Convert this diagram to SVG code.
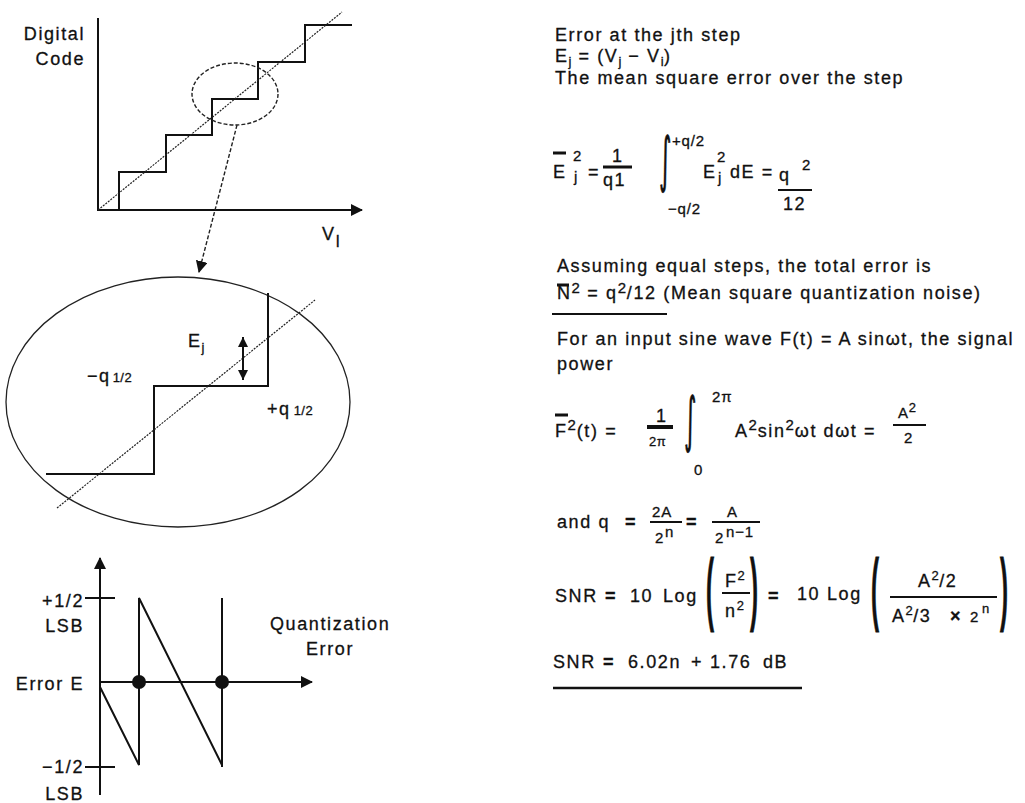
<svg xmlns="http://www.w3.org/2000/svg" width="1025" height="803" viewBox="0 0 1025 803">
<defs>
<style>
text { font-family: "Liberation Sans", Arial, Helvetica, sans-serif; font-size: 18px; letter-spacing: 1.6px; fill: #111; stroke: #111; stroke-width: 0.3px; }
.sm { font-size: 13px; letter-spacing: 0.4px; }
.md { font-size: 15px; letter-spacing: 0.8px; }
.b { font-weight: bold; }
.par { font-size: 24px; font-weight: bold; letter-spacing: 0; }
.int { font-family: "DejaVu Sans", sans-serif; font-size: 30px; letter-spacing: 0; }
.ax { stroke: #111; stroke-width: 2; fill: none; }
.st { stroke: #111; stroke-width: 2; fill: none; }
.dot { stroke: #222; stroke-width: 1.2; fill: none; stroke-dasharray: 2 1.2; }
.thin { stroke: #222; stroke-width: 1.3; fill: none; }
.dash { stroke: #222; stroke-width: 1.4; fill: none; stroke-dasharray: 4 2; }
.bar { stroke: #111; stroke-width: 2; }
.ob { stroke: #111; stroke-width: 3; }
</style>
<marker id="arr" markerUnits="userSpaceOnUse" markerWidth="12" markerHeight="12" refX="11" refY="6" orient="auto-start-reverse">
<path d="M0,0 L12,6 L0,12 z" fill="#111"/>
</marker>
<marker id="arrs" markerUnits="userSpaceOnUse" markerWidth="12" markerHeight="10" refX="10" refY="5" orient="auto-start-reverse">
<path d="M0,0 L10,5 L0,10 z" fill="#111"/>
</marker>
</defs>
<rect width="1025" height="803" fill="#fff"/>

<g id="code-plot">
<line x1="98" y1="18" x2="98" y2="210" class="ax"/>
<line x1="97" y1="210" x2="362" y2="210" class="ax" marker-end="url(#arr)"/>
<polyline points="119,210 119,172 166,172 166,135 212,135 212,99 258,99 258,62 305,62 305,25 352,25" class="st"/>
<line x1="98" y1="210" x2="342" y2="12" class="dot"/>
<text x="85" y="40" text-anchor="end">Digital</text>
<text x="85" y="65" text-anchor="end">Code</text>
<text x="322" y="240">V<tspan dy="7" font-size="16">I</tspan></text>
</g>

<g id="zoom-marker">
<ellipse cx="235" cy="94" rx="43" ry="31" class="dash"/>
</g>

<g id="zoom-view">
<ellipse cx="178" cy="402" rx="172" ry="125" class="thin"/>
<polyline points="46,474 154,474 154,386 268,386 268,293" class="st"/>
<line x1="57" y1="508" x2="315" y2="300" class="dot"/>
<line x1="243" y1="337" x2="243" y2="380" class="bar" marker-start="url(#arrs)" marker-end="url(#arrs)"/>
<text x="188" y="347">E<tspan class="sm" dy="5">j</tspan></text>
<text x="87" y="382">−q<tspan class="sm" dx="2">1/2</tspan></text>
<text x="267" y="415">+q<tspan class="sm" dx="3">1/2</tspan></text>
</g>

<g id="error-plot">
<line x1="100" y1="795" x2="100" y2="558" class="ax" marker-end="url(#arr)"/>
<line x1="100" y1="682" x2="312" y2="682" class="ax" marker-end="url(#arr)"/>
<line x1="85" y1="598" x2="115" y2="598" class="ax"/>
<line x1="85" y1="767" x2="115" y2="767" class="ax"/>
<polyline points="100,687 139,765 139,598 222,765" class="st"/>
<line x1="222" y1="598" x2="222" y2="767" class="st"/>
<circle cx="139" cy="682" r="7" fill="#111"/>
<circle cx="222" cy="682" r="7" fill="#111"/>
<text x="84" y="607" text-anchor="end">+1/2</text>
<text x="84" y="632" text-anchor="end">LSB</text>
<text x="84" y="690" text-anchor="end">Error E</text>
<text x="84" y="773" text-anchor="end">−1/2</text>
<text x="84" y="800" text-anchor="end">LSB</text>
<text x="270" y="630">Quantization</text>
<text x="330" y="655" text-anchor="middle">Error</text>
</g>

<g id="connectors">
<line x1="237" y1="125" x2="199" y2="272" class="dash" marker-end="url(#arr)"/>
</g>

<g id="error-def">
<text x="555" y="41">Error at the jth step</text>
<text x="555" y="62">E<tspan class="sm" dy="4">j</tspan><tspan dy="-4"> = (V</tspan><tspan class="sm" dy="4">j</tspan><tspan dy="-4"> − V</tspan><tspan class="sm" dy="4">i</tspan><tspan dy="-4">)</tspan></text>
<text x="555" y="84">The mean square error over the step</text>
</g>

<g id="mse-eq">
<line x1="553" y1="153" x2="566" y2="153" class="ob"/>
<text x="553" y="178">E</text>
<text x="573" y="161" class="md">2</text>
<text x="574" y="182" class="md">j</text>
<text x="588" y="178">=</text>
<text x="612" y="162">1</text>
<line x1="603" y1="167" x2="632" y2="167" class="ob"/>
<text x="603" y="186">q1</text>
<text class="int" transform="translate(659,180) scale(0.8,2)">∫</text>
<text x="672" y="146" class="md">+q/2</text>
<text x="668" y="214" class="md">−q/2</text>
<text x="703" y="178">E</text>
<text x="717" y="162" class="md">2</text>
<text x="718" y="183" class="md">j</text>
<text x="730" y="178">dE =</text>
<text x="779" y="181">q</text>
<text x="802" y="170" class="md">2</text>
<line x1="778" y1="190" x2="812" y2="190" class="bar"/>
<text x="783" y="210">12</text>
</g>

<g id="noise-text">
<text x="557" y="272">Assuming equal steps, the total error is</text>
<line x1="557" y1="285" x2="569" y2="285" class="ob"/>
<text x="557" y="299">N<tspan class="md" dy="-6">2</tspan><tspan dy="6"> = q</tspan><tspan class="md" dy="-6">2</tspan><tspan dy="6">/12 (Mean square quantization noise)</tspan></text>
<line x1="552" y1="314" x2="667" y2="314" class="bar"/>
<text x="557" y="345">For an input sine wave F(t) = A sinωt, the signal</text>
<text x="557" y="370">power</text>
</g>

<g id="power-eq">
<line x1="555" y1="415" x2="568" y2="415" class="ob"/>
<text x="555" y="437">F<tspan class="md" dy="-7">2</tspan><tspan dy="7">(t) =</tspan></text>
<text x="656" y="422">1</text>
<line x1="647" y1="427" x2="673" y2="427" stroke="#111" stroke-width="4"/>
<text x="649" y="446" class="sm">2π</text>
<text class="int" transform="translate(684,440) scale(0.8,2)">∫</text>
<text x="712" y="402" class="md">2π</text>
<text x="694" y="475" class="md">0</text>
<text x="735" y="437">A<tspan class="md" dy="-7">2</tspan><tspan dy="7">sin</tspan><tspan class="md" dy="-7">2</tspan><tspan dy="7">ωt dωt =</tspan></text>
<text x="898" y="418" class="md">A<tspan class="sm" dy="-6">2</tspan></text>
<line x1="893" y1="425" x2="926" y2="425" class="bar"/>
<text x="904" y="443" class="md">2</text>
</g>

<g id="q-eq">
<text x="557" y="528">and q</text>
<text x="625" y="528" class="b">=</text>
<text x="652" y="517" class="md">2A</text>
<line x1="650" y1="522" x2="682" y2="522" class="bar"/>
<text x="655" y="543" class="md">2</text>
<text x="665" y="537" class="md">n</text>
<text x="686" y="528" class="b">=</text>
<text x="727" y="517" class="md">A</text>
<line x1="712" y1="522" x2="760" y2="522" class="bar"/>
<text x="715" y="543" class="md">2</text>
<text x="726" y="537" class="md">n−1</text>
</g>

<g id="snr-eq">
<text x="555" y="602">SNR</text>
<text x="605" y="602" class="b">=</text>
<text x="630" y="602">10</text>
<text x="663" y="602">Log</text>
<text class="par" transform="translate(706,615) scale(1,3.3)">(</text>
<text x="725" y="587">F<tspan class="sm" dy="-7">2</tspan></text>
<line x1="722" y1="593" x2="750" y2="593" class="bar"/>
<text x="725" y="617">n<tspan class="sm" dy="-7">2</tspan></text>
<text class="par" transform="translate(750,615) scale(1,3.3)">)</text>
<text x="768" y="602" class="b">=</text>
<text x="797" y="600">10</text>
<text x="827" y="600">Log</text>
<text class="par" transform="translate(871,615) scale(1,3.3)">(</text>
<text x="918" y="587">A<tspan class="sm" dy="-7">2</tspan><tspan dy="7">/2</tspan></text>
<line x1="890" y1="597" x2="997" y2="597" class="bar"/>
<text x="892" y="622">A<tspan class="sm" dy="-7">2</tspan><tspan dy="7">/3</tspan></text>
<text x="950" y="622" class="b">×</text>
<text x="970" y="622" class="md">2</text>
<text x="982" y="613" class="sm">n</text>
<text class="par" transform="translate(1000,615) scale(1,3.3)">)</text>
</g>

<g id="snr-result">
<text x="553" y="668">SNR</text>
<text x="603" y="668" class="b">=</text>
<text x="628" y="668">6.02n</text>
<text x="691" y="668">+</text>
<text x="710" y="668">1.76</text>
<text x="763" y="668">dB</text>
<line x1="553" y1="688" x2="802" y2="688" stroke="#111" stroke-width="2.5"/>
</g>
</svg>
